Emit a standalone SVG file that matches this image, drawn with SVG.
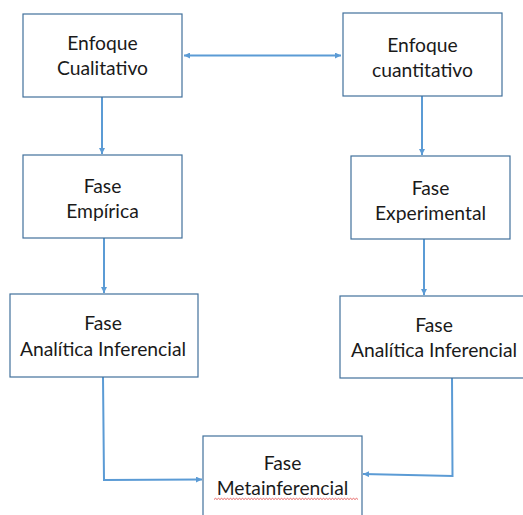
<svg xmlns="http://www.w3.org/2000/svg" width="523" height="515" viewBox="0 0 523 515">
<defs>
<marker id="ah" viewBox="0 0 6 6" refX="6" refY="3" markerWidth="6" markerHeight="6" markerUnits="userSpaceOnUse" orient="auto-start-reverse">
<path d="M0,0 L6,3 L0,6 Z" fill="#5B9BD5"/>
</marker>
<style>
.box{fill:#fff;stroke:#41719C;stroke-width:1.2}
.t{font-family:Lato,"Liberation Sans",sans-serif;font-size:19.3px;fill:#1a1a1a;text-anchor:middle}
.c{fill:none;stroke:#5B9BD5;stroke-width:2}
</style>
</defs>
<rect width="523" height="515" fill="#fff"/>
<g id="connectors">
<line class="c" x1="184" y1="55.5" x2="341" y2="55.5" marker-start="url(#ah)" marker-end="url(#ah)"/>
<line class="c" x1="102" y1="97" x2="102" y2="154" marker-end="url(#ah)"/>
<line class="c" x1="422" y1="96" x2="422" y2="155" marker-end="url(#ah)"/>
<line class="c" x1="104" y1="238" x2="104" y2="293" marker-end="url(#ah)"/>
<line class="c" x1="424" y1="239" x2="424" y2="295" marker-end="url(#ah)"/>
<polyline class="c" points="103,377 104,480 202,479.5" marker-end="url(#ah)"/>
<polyline class="c" points="452,377 452.5,476 363,474" marker-end="url(#ah)"/>
</g>
<g id="n1"><rect class="box" x="23" y="14" width="159" height="83"/><text class="t" x="102.5" y="50">Enfoque</text><text class="t" x="102.5" y="75">Cualitativo</text></g>
<g id="n2"><rect class="box" x="343" y="13" width="159" height="83"/><text class="t" x="422.5" y="52">Enfoque</text><text class="t" x="422.5" y="77">cuantitativo</text></g>
<g id="n3"><rect class="box" x="23" y="155" width="159" height="83"/><text class="t" x="102.5" y="193">Fase</text><text class="t" x="102.5" y="218">Empírica</text></g>
<g id="n4"><rect class="box" x="351" y="156" width="159" height="83"/><text class="t" x="430.5" y="195">Fase</text><text class="t" x="430.5" y="220">Experimental</text></g>
<g id="n5"><rect class="box" x="10" y="294" width="188" height="83"/><text class="t" x="103" y="330">Fase</text><text class="t" x="103" y="356">Analítica Inferencial</text></g>
<g id="n6"><rect class="box" x="340" y="296" width="188" height="82"/><text class="t" x="434" y="332">Fase</text><text class="t" x="434" y="357">Analítica Inferencial</text></g>
<g id="n7"><rect class="box" x="203" y="436" width="159" height="90"/><text class="t" x="282.5" y="470">Fase</text><text class="t" x="282.5" y="495">Metainferencial</text>
<path d="M214,499.5 l1.5,-1.2 l1.5,1.2 l1.5,-1.2 l1.5,1.2 l1.5,-1.2 l1.5,1.2 l1.5,-1.2 l1.5,1.2 l1.5,-1.2 l1.5,1.2 l1.5,-1.2 l1.5,1.2 l1.5,-1.2 l1.5,1.2 l1.5,-1.2 l1.5,1.2 l1.5,-1.2 l1.5,1.2 l1.5,-1.2 l1.5,1.2 l1.5,-1.2 l1.5,1.2 l1.5,-1.2 l1.5,1.2 l1.5,-1.2 l1.5,1.2 l1.5,-1.2 l1.5,1.2 l1.5,-1.2 l1.5,1.2 l1.5,-1.2 l1.5,1.2 l1.5,-1.2 l1.5,1.2 l1.5,-1.2 l1.5,1.2 l1.5,-1.2 l1.5,1.2 l1.5,-1.2 l1.5,1.2 l1.5,-1.2 l1.5,1.2 l1.5,-1.2 l1.5,1.2 l1.5,-1.2 l1.5,1.2 l1.5,-1.2 l1.5,1.2 l1.5,-1.2 l1.5,1.2 l1.5,-1.2 l1.5,1.2 l1.5,-1.2 l1.5,1.2 l1.5,-1.2 l1.5,1.2 l1.5,-1.2 l1.5,1.2 l1.5,-1.2 l1.5,1.2 l1.5,-1.2 l1.5,1.2 l1.5,-1.2 l1.5,1.2 l1.5,-1.2 l1.5,1.2 l1.5,-1.2 l1.5,1.2 l1.5,-1.2 l1.5,1.2 l1.5,-1.2 l1.5,1.2 l1.5,-1.2 l1.5,1.2 l1.5,-1.2 l1.5,1.2 l1.5,-1.2 l1.5,1.2 l1.5,-1.2 l1.5,1.2 l1.5,-1.2 l1.5,1.2 l1.5,-1.2 l1.5,1.2 l1.5,-1.2 l1.5,1.2 l1.5,-1.2 l1.5,1.2 l1.5,-1.2 l1.5,1.2 l1.5,-1.2 l1.5,1.2 l1.5,-1.2 l1.5,1.2 l1.5,-1.2 l1.5,1.2" fill="none" stroke="#E03C3C" stroke-width="0.8"/></g>
</svg>
